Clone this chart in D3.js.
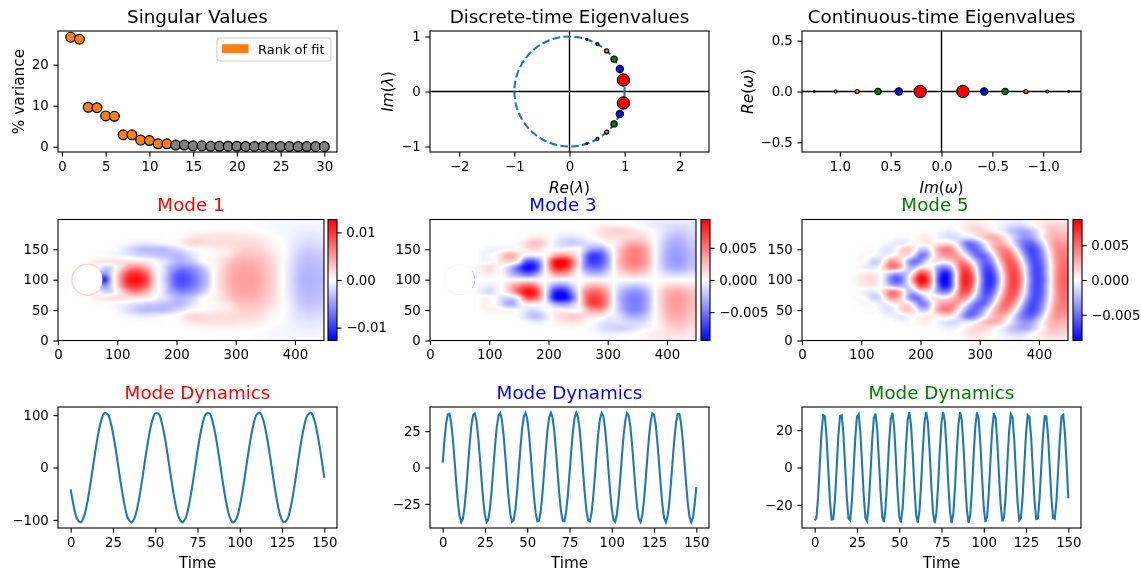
<!DOCTYPE html>
<html>
<head>
<meta charset="utf-8">
<style>
	html, body { margin:0; padding:0; background:#fff; }
	svg { display:block; font-family:"DejaVu Sans"; filter:blur(0.5px); }
</style>
<script src="https://cdn.jsdelivr.net/npm/d3@7"></script>
</head>
<body>
<script>
'use strict';

// singular values, % variance of modes 1..30
const singularValues = [26.7, 26.2, 9.6, 9.5, 7.5, 7.4, 2.9, 2.9, 1.6, 1.5, 0.7, 0.7, 0.4, 0.4, 0.2, 0.2, 0.1, 0.1, 0.1, 0.1, 0.05, 0.05, 0.05, 0.05, 0.03, 0.03, 0.03, 0.03, 0.02, 0.02];
const fitRank = 12;

// eigenvalues of the six pairs
const discreteRe = [0.978, 0.913, 0.808, 0.675, 0.506, 0.315];
const discreteIm = [0.208, 0.408, 0.589, 0.738, 0.862, 0.949];
const continuousIm = [0.21, 0.42, 0.625, 0.83, 1.04, 1.25];
const eigenColors = ["#ff0000", "#0000ff", "#008000", "#ff7f0e", "#ff7f0e", "#ff7f0e"];
const eigenRadius = [6.1, 3.6, 3.1, 2, 1.5, 0.9];

// mode dynamics, mode 1 read every 2 time units, the others every unit
const dynamics1 = [-41.9,-77.2,-99.4,-104.6,-92,-63.7,-24.5,18.8,58.9,89,103.9,101.1,81.1,47.2,5.3,-37.5,-73.9,-97.8,-104.9,-94.2,-67.3,-29.1,14.2,55,86.4,103.2,102.3,84,51.3,9.9,-33.1,-70.5,-96,-105,-96.1,-70.8,-33.5,9.5,51,83.7,102.2,103.2,86.7,55.3,14.6,-28.7,-67.1,-94,-104.9,-97.9,-74.2,-37.9,4.9,46.8,80.8,101,104,89.2,59.2,19.2,-24.2,-63.4,-91.8,-104.6,-99.5,-77.5,-42.2,0.2,42.6,77.8,99.6,104.5,91.6,63,23.8,-19.6];
const dynamics3 = [
	3.3,18.1,29.9,36.5,37,31.1,19.9,5.3,-10.2,-24,-33.6,-37.6,-35.1,-26.6,-13.6,
	1.7,16.7,28.9,36.1,37.3,32,21.2,6.8,-8.7,-22.7,-32.9,-37.4,-35.6,-27.7,-15.1,
	0.2,15.3,27.9,35.7,37.4,32.7,22.5,8.4,-7.1,-21.4,-32.1,-37.3,-36.1,-28.8,-16.5,
	-1.4,13.8,26.8,35.2,37.6,33.5,23.7,9.9,-5.6,-20.1,-31.2,-37,-36.5,-29.7,-17.9,
	-3,12.4,25.7,34.6,37.6,34.2,24.9,11.4,-4,-18.8,-30.3,-36.7,-36.8,-30.7,-19.3,
	-4.6,10.9,24.5,34,37.6,34.8,26.1,12.9,-2.4,-17.4,-29.4,-36.4,-37.1,-31.5,-20.6,
	-6.2,9.4,23.3,33.2,37.5,35.4,27.2,14.4,-0.9,-16,-28.4,-35.9,-37.4,-32.4,-21.9,
	-7.7,7.8,22,32.4,37.4,35.8,28.2,15.8,0.7,-14.6,-27.3,-35.4,-37.5,-33.2,-23.1,
	-9.2,6.3,20.7,31.6,37.1,36.3,29.3,17.3,2.3,-13,-26.2,-34.9,-37.6,-33.8,-24.4,
	-10.8,4.7,19.4,30.8,36.9,36.7,30.2,18.6,3.8,-11.6,-25,-34.3,-37.6,-34.5,-25.6,
	-13.5
];
const dynamics5 = [
	-28.3,-27.2,-16,1.3,18,28.1,27.5,16.6,-0.5,-17.5,
	-27.9,-27.7,-17.2,-0.2,16.9,27.6,28,17.8,1,-16.2,
	-27.5,-28.3,-18.4,-1.7,15.7,27.2,28.5,19,2.5,-15,
	-27,-28.7,-19.6,-3.2,14.5,26.7,28.9,20.2,3.9,-13.8,
	-26.6,-29.2,-20.9,-4.7,13.3,26.2,29.3,21.4,5.4,-12.6,
	-26,-29.5,-22,-6.2,11.9,25.6,29.6,22.5,6.9,-11.2,
	-25.3,-29.7,-23,-7.7,10.6,24.9,29.8,23.5,8.4,-9.9,
	-24.4,-29.8,-24,-9.1,9.1,24,29.8,24.4,9.9,-8.4,
	-23.5,-29.8,-24.8,-10.5,7.7,23.1,29.7,25.2,11.3,-6.9,
	-22.5,-29.6,-25.5,-11.9,6.2,22,29.5,25.9,12.6,-5.5,
	-21.4,-29.2,-26.1,-13.2,4.7,20.8,29.1,26.4,13.8,-4,
	-20.2,-28.8,-26.6,-14.4,3.2,19.6,28.6,26.9,15,-2.5,
	-18.9,-28.3,-27,-15.5,1.7,18.4,28.1,27.3,16.2,-1,
	-17.6,-27.6,-27.2,-16.6,0.3,17,27.4,27.4,17.2,0.5,
	-16.3,-27,-27.5,-17.6,-1.2,15.7,27.5,28.3,18.3,2,
	-16.5
];

// mode shapes in % of the colour limit, x = 0,10..440, rows y-100 = 0,10..100.
// the wake is mirrored about y=100
const field1 = [
	[0,0,0,0,0,0,0,-75,-80,-20,20,60,88,95,90,70,30,0,-20,-45,-65,-70,-66,-55,-42,-28,-5,10,20,30,35,38,38,37,33,27,20,10,0,-10,-20,-28,-30,-30,-28],
	[0,0,0,0,0,0,0,-30,-40,-15,15,50,75,82,76,58,22,0,-15,-40,-60,-65,-60,-50,-38,-24,-4,10,20,29,34,37,37,36,32,26,19,10,0,-10,-19,-27,-29,-29,-27],
	[0,0,0,0,0,0,0,-5,-18,-15,5,20,40,48,42,28,8,0,-15,-32,-42,-48,-44,-38,-28,-14,0,8,18,27,32,35,35,34,30,25,18,10,0,-9,-18,-25,-28,-28,-26],
	[0,0,0,0,0,0,6,8,10,12,12,12,12,12,10,8,3,-6,-12,-20,-28,-30,-25,-18,-6,0,3,8,15,22,28,30,30,30,27,22,15,8,0,-8,-16,-23,-26,-26,-24],
	[0,0,0,0,0,0,0,0,-1,-2,-4,-6,-8,-12,-15,-18,-20,-22,-24,-26,-28,-25,-18,-10,-2,0,2,5,8,12,20,24,24,24,22,18,12,6,0,-6,-14,-20,-23,-23,-21],
	[0,0,0,0,0,0,0,0,0,-1,-3,-8,-14,-20,-25,-27,-27,-27,-26,-22,-16,-12,-4,0,1,2,4,6,8,10,14,18,19,18,16,12,8,4,0,-5,-11,-16,-19,-19,-17],
	[0,0,0,0,0,0,0,0,0,0,-1,-2,-4,-6,-8,-8,-7,-5,-3,-1,1,8,14,17,16,14,13,13,13,13,14,15,15,14,12,9,5,2,-1,-5,-9,-12,-14,-14,-13],
	[0,0,0,0,0,0,0,0,0,0,0,0,0,0,0,0,0,0,0,0,0,3,7,10,11,11,11,11,11,11,11,10,10,9,7,5,2,0,-2,-4,-7,-9,-10,-10,-9],
	[0,0,0,0,0,0,0,0,0,0,0,0,0,0,0,0,0,0,0,0,0,0,1,2,3,3,4,4,4,4,4,3,3,2,1,0,-1,-2,-3,-4,-5,-6,-7,-7,-6],
	[0,0,0,0,0,0,0,0,0,0,0,0,0,0,0,0,0,0,0,0,0,0,0,0,0,0,0,0,0,0,0,0,0,-1,-2,-2,-3,-3,-3,-4,-4,-4,-4,-4,-4],
	[0,0,0,0,0,0,0,0,0,0,0,0,0,0,0,0,0,0,0,0,0,0,0,0,0,0,0,0,0,0,0,0,0,-1,-1,-1,-2,-2,-2,-2,-2,-2,-2,-2,-2]
];
const field3 = [
	[0,0,0,0,0,0,0,0,0,0,0,0,0,0,0,0,0,0,0,0,0,0,0,0,0,0,0,0,0,0,0,0,0,0,0,0,0,0,0,0,0,0,0,0,0],
	[0,0,0,0,0,0,0,0,2,5,8,5,0,-15,-32,-45,-60,-60,-40,-12,15,38,45,38,20,3,-15,-28,-30,-26,-15,0,12,18,22,22,18,10,0,-8,-14,-17,-17,-15,-12],
	[0,0,0,0,0,0,0,0,4,10,15,8,0,-12,-35,-65,-90,-95,-75,-25,30,78,92,80,45,8,-35,-55,-58,-50,-30,0,22,35,42,42,35,20,0,-15,-28,-33,-34,-30,-24],
	[0,0,0,0,0,0,0,0,0,-4,-3,2,12,18,15,-5,-55,-70,-55,-20,35,88,100,92,60,15,-40,-72,-75,-65,-38,0,28,42,50,50,42,25,0,-18,-32,-38,-39,-34,-27],
	[0,0,0,0,0,0,0,0,0,-5,-3,2,15,30,32,12,-2,-8,-5,-2,10,30,42,40,25,5,-35,-70,-76,-65,-35,0,25,42,50,50,42,25,0,-18,-32,-38,-38,-34,-27],
	[0,0,0,0,0,0,0,0,0,-3,-6,-6,-4,-2,0,3,8,14,12,6,0,-2,-2,0,2,1,-15,-35,-40,-38,-15,2,22,38,48,48,40,22,0,-16,-30,-36,-36,-32,-25],
	[0,0,0,0,0,0,0,0,0,0,0,0,0,0,0,4,12,22,25,18,5,-6,-14,-18,-20,-18,-15,-12,-10,-6,3,6,14,25,32,32,26,14,0,-14,-26,-32,-32,-28,-22],
	[0,0,0,0,0,0,0,0,0,0,0,0,0,0,0,0,2,6,8,6,2,-3,-8,-10,-11,-9,-5,-1,3,8,12,12,12,14,16,16,14,6,-2,-10,-20,-25,-26,-23,-18],
	[0,0,0,0,0,0,0,0,0,0,0,0,0,0,0,0,0,0,0,0,0,0,-1,-2,-2,-1,0,2,6,12,16,17,18,17,14,10,6,2,-3,-8,-14,-18,-19,-17,-13],
	[0,0,0,0,0,0,0,0,0,0,0,0,0,0,0,0,0,0,0,0,0,0,0,0,0,0,0,0,2,4,5,5,4,3,1,-1,-3,-6,-8,-10,-12,-12,-12,-11,-9],
	[0,0,0,0,0,0,0,0,0,0,0,0,0,0,0,0,0,0,0,0,0,0,0,0,0,0,0,0,0,0,0,0,0,0,0,-1,-2,-3,-4,-4,-5,-5,-5,-4,-4]
];
const field5 = [
	[0,0,0,0,0,0,0,0,1,4,10,14,14,6,-15,-50,-65,-45,-2,55,98,85,20,-65,-100,-75,0,75,87,46,-22,-75,-82,-45,13,61,74,42,-15,-63,-73,-47,1,44,62],
	[0,0,0,0,0,0,0,0,0,2,6,8,8,2,-8,-25,-35,-30,-15,25,70,60,15,-55,-90,-70,-2,70,81,38,-29,-75,-76,-37,19,63,72,37,-21,-65,-71,-42,2,43,60],
	[0,0,0,0,0,0,0,0,0,-2,-4,-8,-10,-2,25,50,45,15,-25,-25,5,10,-5,-35,-50,-35,20,65,62,19,-36,-70,-62,-21,30,65,65,25,-25,-65,-70,-41,2,41,58],
	[0,0,0,0,0,0,0,0,0,2,2,-5,-18,-15,10,40,35,5,-35,-55,-45,-15,10,10,5,15,35,49,27,-12,-47,-62,-44,0,43,66,52,10,-38,-68,-66,-36,5,40,55],
	[0,0,0,0,0,0,0,0,0,0,4,3,0,-6,-8,0,8,15,10,-20,-50,-42,-5,25,40,42,40,16,-14,-46,-61,-54,-21,23,54,57,30,-13,-53,-72,-61,-29,12,43,52],
	[0,0,0,0,0,0,0,0,0,0,0,2,2,-4,-10,-10,0,18,22,8,-20,-20,5,35,50,47,22,-14,-45,-60,-50,-23,11,38,48,36,4,-35,-64,-72,-54,-18,20,45,48],
	[0,0,0,0,0,0,0,0,0,0,0,0,0,0,-3,-5,-8,-8,-3,2,5,8,6,8,12,10,-5,-30,-55,-50,-29,-3,22,33,29,8,-20,-46,-60,-57,-33,-4,27,41,40],
	[0,0,0,0,0,0,0,0,0,0,0,0,0,0,0,0,-2,-3,-2,2,6,6,2,-5,-10,-14,-14,-10,-8,-2,12,25,32,28,14,-5,-23,-38,-42,-32,-12,11,27,32,30],
	[0,0,0,0,0,0,0,0,0,0,0,0,0,0,0,0,0,0,0,0,0,0,0,-2,-4,-6,-4,2,8,14,17,14,8,0,-8,-20,-28,-34,-33,-22,-6,10,24,25,23],
	[0,0,0,0,0,0,0,0,0,0,0,0,0,0,0,0,0,0,0,0,0,0,0,0,0,0,2,5,9,11,10,6,2,-3,-6,-10,-14,-14,-8,0,8,13,17,17,15],
	[0,0,0,0,0,0,0,0,0,0,0,0,0,0,0,0,0,0,0,0,0,0,0,0,0,0,0,0,3,4,3,1,0,-1,-2,-3,-4,-4,-2,0,3,5,6,6,5]
];

const svg = d3.select("body").append("svg")
			  .attr("width", 1141)
			  .attr("height", 573);

const defs = svg.append("defs");

const colL = 58, colM = 430, colR = 802;
const fullW = 279, imgW = 266;
const FONT_TICK = 13.3, FONT_LABEL = 15.3, FONT_TITLE = 18.3;
const TICK_LEN = 4.6;

const heat = d3.scaleLinear().domain([-100, 0, 100]).range(["#0000ff", "#ffffff", "#ff0000"]).clamp(true);

function Panel(left, top, w, h, xDomain, yDomain, xTicks, yTicks, xFmt, yFmt) {
	var g = svg.append("g").attr("transform", `translate(${left},${top})`);
	var x = d3.scaleLinear().domain(xDomain).range([0, w]);
	var y = d3.scaleLinear().domain(yDomain).range([h, 0]);

	g.append("g").attr("class", "marks");

	var ax = g.append("g").attr("transform", `translate(0,${h})`)
			  .call(d3.axisBottom(x).tickValues(xTicks).tickSize(TICK_LEN).tickPadding(TICK_LEN).tickSizeOuter(0).tickFormat(xFmt));
	var ay = g.append("g")
			  .call(d3.axisLeft(y).tickValues(yTicks).tickSize(TICK_LEN).tickPadding(TICK_LEN).tickSizeOuter(0).tickFormat(yFmt));

	[ax, ay].forEach(a => {
		a.attr("font-family", "DejaVu Sans").attr("font-size", FONT_TICK);
		a.selectAll("line").attr("stroke", "#000").attr("stroke-width", 1.1);
		a.selectAll("text").attr("fill", "#000");
		a.select(".domain").remove();
	});

	g.append("rect").attr("class", "frame")
	 .attr("width", w).attr("height", h)
	 .attr("fill", "none").attr("stroke", "#000").attr("stroke-width", 1.1);

	return { g:g, marks:g.select(".marks"), x:x, y:y, w:w, h:h };
}

function Title(p, text, color) {
	p.g.append("text").attr("x", p.w / 2).attr("y", -8.3)
	   .attr("text-anchor", "middle").attr("font-size", FONT_TITLE)
	   .attr("fill", color).text(text);
}

function XLabel(p, parts) {
	MathText(p.g.append("text").attr("x", p.w / 2).attr("y", p.h + 41), parts);
}

function YLabel(p, dist, parts) {
	MathText(p.g.append("text").attr("transform", `translate(${-dist},${p.h / 2}) rotate(-90)`), parts);
}

// parts: [text, italic]
function MathText(t, parts) {
	t.attr("text-anchor", "middle").attr("font-size", FONT_LABEL).attr("fill", "#000");
	parts.forEach(d => {
		t.append("tspan").attr("font-style", d[1] ? "italic" : "normal").text(d[0]);
	});
}

function ZeroLines(p) {
	p.marks.append("line").attr("x1", 0).attr("x2", p.w)
		   .attr("y1", p.y(0)).attr("y2", p.y(0))
		   .attr("stroke", "#000").attr("stroke-width", 1.4);
	p.marks.append("line").attr("y1", 0).attr("y2", p.h)
		   .attr("x1", p.x(0)).attr("x2", p.x(0))
		   .attr("stroke", "#000").attr("stroke-width", 1.4);
}

function Dots(p, data, cx, cy) {
	p.marks.append("g").selectAll("circle").data(data).join("circle")
		   .attr("cx", d => p.x(cx(d)))
		   .attr("cy", d => p.y(cy(d)))
		   .attr("r", d => d.r)
		   .attr("fill", d => d.c)
		   .attr("stroke", "#000").attr("stroke-width", 1.2);
}

function Bicubic(a, b, c, d, t) {
	return b + 0.5 * t * (c - a + t * (2 * a - 5 * b + 4 * c - d + t * (3 * (b - c) + d - a)));
}

// rows come for y>=100 only, sign is -1 for the antisymmetric mode
function FieldImage(p, rows, sign) {
	rows.forEach(r => {
		if (r.length != 45) throw new Error("bad field row " + r.length);
	});

	var at = (ix, iy) => {
		ix = Math.max(0, Math.min(44, ix));
		iy = Math.max(0, Math.min(20, iy));
		var r = rows[Math.abs(iy - 10)];
		return (iy < 10 ? sign : 1) * r[ix];
	};
	var sample = (xv, yv) => {
		var fx = xv / 10, fy = yv / 10;
		var ix = Math.floor(fx), iy = Math.floor(fy);
		var col = [];
		for (var j = -1; j <= 2; j++) {
			col.push(Bicubic(at(ix - 1, iy + j), at(ix, iy + j), at(ix + 1, iy + j), at(ix + 2, iy + j), fx - ix));
		}
		return Bicubic(col[0], col[1], col[2], col[3], fy - iy);
	};

	var canvas = document.createElement("canvas");
	canvas.width = p.w;
	canvas.height = p.h;
	var ctx = canvas.getContext("2d");
	var img = ctx.createImageData(p.w, p.h);
	for (var j = 0; j < p.h; j++) {
		for (var i = 0; i < p.w; i++) {
			var c = d3.rgb(heat(sample(p.x.invert(i + 0.5), p.y.invert(j + 0.5))));
			var k = (j * p.w + i) * 4;
			img.data[k] = c.r;
			img.data[k + 1] = c.g;
			img.data[k + 2] = c.b;
			img.data[k + 3] = 255;
		}
	}
	ctx.putImageData(img, 0, 0);

	p.marks.append("image")
		   .attr("href", canvas.toDataURL())
		   .attr("width", p.w).attr("height", p.h);
}

function Cylinder(p, rings) {
	var cx = p.x(50), cy = p.y(100);
	var r = p.x(25) - p.x(0);
	p.marks.append("ellipse").attr("cx", cx).attr("cy", cy)
		   .attr("rx", r).attr("ry", p.y(75) - p.y(100))
		   .attr("fill", "#fff");
	rings.forEach(d => {
		p.marks.append("path")
			   .attr("transform", `translate(${cx},${cy})`)
			   .attr("d", d3.arc()({ innerRadius:r, outerRadius:r + d.w, startAngle:d.a0 * Math.PI / 180, endAngle:d.a1 * Math.PI / 180 }))
			   .attr("fill", d.c);
	});
}

function ColorBar(left, top, w, h, limit, ticks, labels, id) {
	var g = svg.append("g").attr("transform", `translate(${left},${top})`);
	var y = d3.scaleLinear().domain([-limit, limit]).range([h, 0]);

	var grad = defs.append("linearGradient").attr("id", id)
				   .attr("x1", 0).attr("y1", 1).attr("x2", 0).attr("y2", 0);
	[-100, 0, 100].forEach(v => {
		grad.append("stop").attr("offset", `${(v + 100) / 2}%`).attr("stop-color", heat(v));
	});

	g.append("rect").attr("width", w).attr("height", h).attr("fill", `url(#${id})`);

	var ax = g.append("g").attr("transform", `translate(${w},0)`)
			  .call(d3.axisRight(y).tickValues(ticks).tickSize(TICK_LEN).tickPadding(TICK_LEN).tickFormat((d, i) => labels[i]));
	ax.attr("font-family", "DejaVu Sans").attr("font-size", FONT_TICK);
	ax.selectAll("line").attr("stroke", "#000").attr("stroke-width", 1.1);
	ax.selectAll("text").attr("fill", "#000");
	ax.select(".domain").remove();

	g.append("rect").attr("width", w).attr("height", h)
	 .attr("fill", "none").attr("stroke", "#000").attr("stroke-width", 1.1);
}

const plain = d => String(d).replace("-", "\u2212");
const oneDec = d => d3.format(".1f")(d);

// singular values
var pSv = Panel(colL, 31, fullW, 121, [-0.45, 31.45], [-1.3, 28.2], [0, 5, 10, 15, 20, 25, 30], [0, 10, 20], plain, plain);
Title(pSv, "Singular Values", "#000");
YLabel(pSv, 34, [["% variance", false]]);
Dots(pSv, singularValues.map((v, i) => ({ n:i + 1, v:v, r:4.9, c:i < fitRank ? "#ff7f0e" : "#808080" })), d => d.n, d => d.v);

var legend = pSv.g.append("g").attr("transform", "translate(159,7)");
legend.append("rect").attr("width", 114).attr("height", 23).attr("rx", 2.5)
	  .attr("fill", "#fff").attr("fill-opacity", 0.8).attr("stroke", "#ccc").attr("stroke-width", 1.1);
legend.append("rect").attr("x", 5).attr("y", 6.2).attr("width", 26.5).attr("height", 9).attr("fill", "#ff7f0e");
legend.append("text").attr("x", 41).attr("y", 16.2).attr("font-size", 13).attr("fill", "#000").text("Rank of fit");

// discrete-time eigenvalues
var pDisc = Panel(colM, 31, fullW, 121, [-2.53, 2.53], [-1.1, 1.1], [-2, -1, 0, 1, 2], [-1, 0, 1], plain, plain);
Title(pDisc, "Discrete-time Eigenvalues", "#000");
XLabel(pDisc, [["Re", true], ["(", false], ["\u03bb", true], [")", false]]);
YLabel(pDisc, 37, [["Im", true], ["(", false], ["\u03bb", true], [")", false]]);
ZeroLines(pDisc);
pDisc.marks.append("ellipse")
	 .attr("cx", pDisc.x(0)).attr("cy", pDisc.y(0))
	 .attr("rx", pDisc.x(1) - pDisc.x(0)).attr("ry", pDisc.y(-1) - pDisc.y(0))
	 .attr("fill", "none").attr("stroke", "#1f77b4").attr("stroke-width", 2.08)
	 .attr("stroke-dasharray", "7.7,3.3");
var discPts = [];
discreteRe.forEach((re, i) => {
	discPts.push({ re:re, im:discreteIm[i], r:eigenRadius[i], c:eigenColors[i] });
	discPts.push({ re:re, im:-discreteIm[i], r:eigenRadius[i], c:eigenColors[i] });
});
Dots(pDisc, discPts.reverse(), d => d.re, d => d.im);

// continuous-time eigenvalues
var pCont = Panel(colR, 31, fullW, 121, [1.372, -1.372], [-0.595, 0.595], [1, 0.5, 0, -0.5, -1], [-0.5, 0, 0.5], d => oneDec(d).replace("-", "\u2212"), d => oneDec(d).replace("-", "\u2212"));
Title(pCont, "Continuous-time Eigenvalues", "#000");
XLabel(pCont, [["Im", true], ["(", false], ["\u03c9", true], [")", false]]);
YLabel(pCont, 49, [["Re", true], ["(", false], ["\u03c9", true], [")", false]]);
ZeroLines(pCont);
var contPts = [];
continuousIm.forEach((im, i) => {
	contPts.push({ im:im, r:eigenRadius[i], c:eigenColors[i] });
	contPts.push({ im:-im, r:eigenRadius[i], c:eigenColors[i] });
});
Dots(pCont, contPts.reverse(), d => d.im, d => 0);

// mode shapes
const shapeXTicks = [0, 100, 200, 300, 400];
const shapeYTicks = [0, 50, 100, 150];

var shape1 = Panel(colL, 219.5, imgW, 121, [0, 449], [0, 199], shapeXTicks, shapeYTicks, plain, plain);
Title(shape1, "Mode 1", "#ff0000");
FieldImage(shape1, field1, 1);
Cylinder(shape1, [{ a0:-222, a1:42, w:1.4, c:"#ffd2d2" }]);
ColorBar(328, 219.5, 9, 121, 0.0127, [-0.01, 0, 0.01], ["\u22120.01", "0.00", "0.01"], "bar1");

var shape3 = Panel(colM, 219.5, imgW, 121, [0, 449], [0, 199], shapeXTicks, shapeYTicks, plain, plain);
Title(shape3, "Mode 3", "#0000ff");
FieldImage(shape3, field3, -1);
Cylinder(shape3, [
	{ a0:-270, a1:90, w:0.7, c:"#fdf0f0" },
	{ a0:55, a1:88, w:0.7, c:"#c4c4ff" },
	{ a0:92, a1:125, w:0.7, c:"#ffc4c4" }
]);
ColorBar(701, 219.5, 9, 121, 0.0094, [-0.005, 0, 0.005], ["\u22120.005", "0.000", "0.005"], "bar3");

var shape5 = Panel(colR, 219.5, imgW, 121, [0, 449], [0, 199], shapeXTicks, shapeYTicks, plain, plain);
Title(shape5, "Mode 5", "#008000");
FieldImage(shape5, field5, 1);
ColorBar(1073, 219.5, 9, 121, 0.0087, [-0.005, 0, 0.005], ["\u22120.005", "0.000", "0.005"], "bar5");

// mode dynamics
const timeTicks = [0, 25, 50, 75, 100, 125, 150];
function DynamicsPanel(left, values, step, limit, yTicks, color, curve) {
	var p = Panel(left, 407, fullW, 121, [-7.5, 157.5], [-limit, limit], timeTicks, yTicks, plain, plain);
	Title(p, "Mode Dynamics", color);
	p.g.append("text").attr("x", p.w / 2).attr("y", 40)
	   .attr("transform", `translate(0,${p.h})`)
	   .attr("text-anchor", "middle").attr("font-size", FONT_LABEL).attr("fill", "#000").text("Time");
	p.marks.append("path")
		   .attr("d", d3.line().curve(curve).x((d, i) => p.x(i * step)).y(d => p.y(d))(values))
		   .attr("fill", "none").attr("stroke", "#1f77b4").attr("stroke-width", 2.08);
	return p;
}

DynamicsPanel(colL, dynamics1, 2, 115.5, [-100, 0, 100], "#ff0000", d3.curveCatmullRom);
DynamicsPanel(colM, dynamics3, 1, 41.6, [-25, 0, 25], "#0000ff", d3.curveLinear);
DynamicsPanel(colR, dynamics5, 1, 32.4, [-20, 0, 20], "#008000", d3.curveLinear);
</script>
</body>
</html>
